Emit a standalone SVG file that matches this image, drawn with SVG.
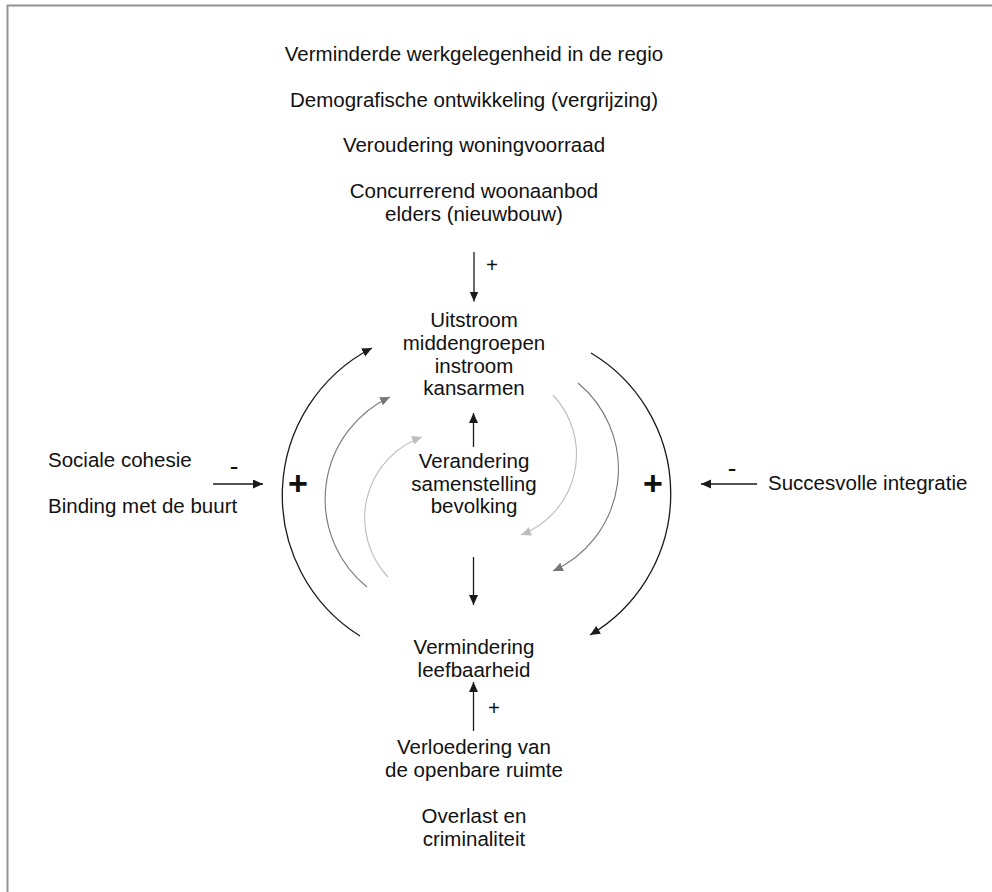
<svg xmlns="http://www.w3.org/2000/svg" width="992" height="892" viewBox="0 0 992 892">
<style>
text{font-family:"Liberation Sans",Arial,sans-serif;font-size:20.5px;fill:#111}
.c{text-anchor:middle}
.m{font-size:26px;text-anchor:middle}
.big{font-size:34px;font-weight:bold;text-anchor:middle}
.k{fill:none;stroke:#1a1a1a;stroke-width:1.3}
.g{fill:none;stroke:#777;stroke-width:1.1}
.l{fill:none;stroke:#bdbdbd;stroke-width:1.1}
</style>
<defs>
<marker id="ak" markerUnits="userSpaceOnUse" markerWidth="11" markerHeight="10" refX="10" refY="4.5" orient="auto"><path d="M0,0 L10,4.5 L0,9 z" fill="#1a1a1a"/></marker>
<marker id="ag" markerUnits="userSpaceOnUse" markerWidth="11" markerHeight="10" refX="10" refY="4.5" orient="auto"><path d="M0,0 L10,4.5 L0,9 z" fill="#777"/></marker>
<marker id="al" markerUnits="userSpaceOnUse" markerWidth="11" markerHeight="10" refX="10" refY="4.5" orient="auto"><path d="M0,0 L10,4.5 L0,9 z" fill="#bdbdbd"/></marker>
</defs>
<rect width="992" height="892" fill="#fff"/>
<path d="M7.5,892 V5.5 H992" fill="none" stroke="#929292" stroke-width="2"/>

<g id="factoren-boven">
<text class="c" x="474" y="60.5">Verminderde werkgelegenheid in de regio</text>
<text class="c" x="474" y="106.5">Demografische ontwikkeling (vergrijzing)</text>
<text class="c" x="474" y="152">Veroudering woningvoorraad</text>
<text class="c" x="474" y="198">Concurrerend woonaanbod</text>
<text class="c" x="474" y="220.5">elders (nieuwbouw)</text>
</g>
<g id="uitstroom">
<text class="c" x="474" y="327">Uitstroom</text>
<text class="c" x="474" y="350">middengroepen</text>
<text class="c" x="474" y="372.5">instroom</text>
<text class="c" x="474" y="395">kansarmen</text>
</g>
<g id="verandering">
<text class="c" x="474" y="468">Verandering</text>
<text class="c" x="474" y="490.5">samenstelling</text>
<text class="c" x="474" y="513">bevolking</text>
</g>
<g id="vermindering">
<text class="c" x="474" y="654">Vermindering</text>
<text class="c" x="474" y="677">leefbaarheid</text>
</g>
<g id="verloedering">
<text class="c" x="474" y="754">Verloedering van</text>
<text class="c" x="474" y="776.5">de openbare ruimte</text>
<text class="c" x="474" y="823">Overlast en</text>
<text class="c" x="474" y="846">criminaliteit</text>
</g>
<g id="sociale-cohesie">
<text x="48" y="467">Sociale cohesie</text>
<text x="48" y="513">Binding met de buurt</text>
</g>
<g id="integratie">
<text x="768" y="490">Succesvolle integratie</text>
</g>

<g id="connectors">
<line class="k" x1="474" y1="252" x2="474" y2="301.5" marker-end="url(#ak)"/>
<line class="k" x1="473.5" y1="447" x2="473.5" y2="413" marker-end="url(#ak)"/>
<line class="k" x1="473.5" y1="557" x2="473.5" y2="605" marker-end="url(#ak)"/>
<line class="k" x1="473.5" y1="731" x2="473.5" y2="682" marker-end="url(#ak)"/>
<line class="k" x1="213" y1="484" x2="263" y2="484" marker-end="url(#ak)"/>
<line class="k" x1="757" y1="484" x2="701" y2="484" marker-end="url(#ak)"/>
<path class="k" d="M360,636 A166,166 0 0 1 372,348" marker-end="url(#ak)"/>
<path class="k" d="M591,353 A164,164 0 0 1 590,635" marker-end="url(#ak)"/>
<path class="g" d="M367,587 A113,113 0 0 1 390,397" marker-end="url(#ag)"/>
<path class="g" d="M578,383 A112,112 0 0 1 553,571" marker-end="url(#ag)"/>
<path class="l" d="M388,577 A86,86 0 0 1 422,437" marker-end="url(#al)"/>
<path class="l" d="M553,395 A86.5,86.5 0 0 1 521,535" marker-end="url(#al)"/>
<text x="492" y="272" class="c">+</text>
<text x="494" y="715" class="c">+</text>
<text x="234" y="475" class="m">-</text>
<text x="732" y="477" class="m">-</text>
<text class="big" x="298" y="495">+</text>
<text class="big" x="653" y="495">+</text>
</g>
</svg>
